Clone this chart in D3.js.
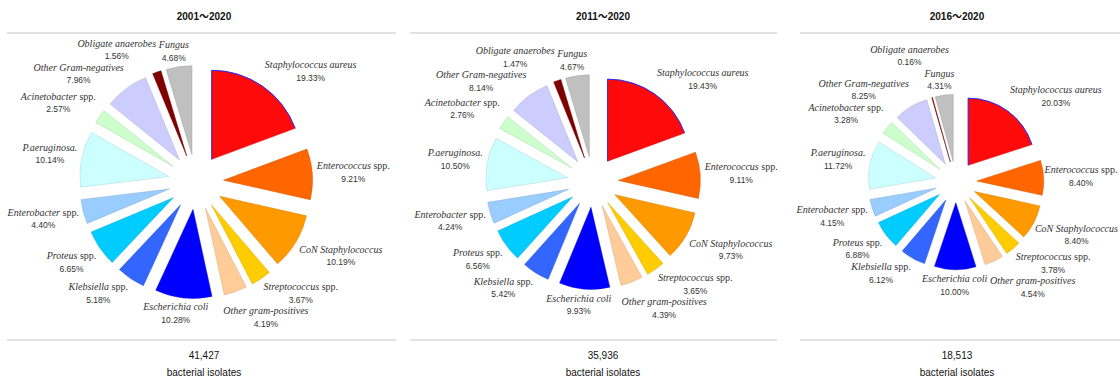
<!DOCTYPE html>
<html>
<head>
<meta charset="utf-8">
<script src="https://cdn.jsdelivr.net/npm/d3@7"></script>
<style>
  body { margin: 0; background: #fff; }
  svg { display: block; }
  .title { font: bold 10px "Liberation Sans", Arial, "Noto Sans CJK SC", sans-serif; fill: #111; }
  .name { font: italic 10px "Liberation Serif", "Times New Roman", serif; fill: #333; }
  .name .spp { font-style: normal; }
  .pct { font: 8.5px "Liberation Sans", Arial, sans-serif; fill: #333; }
  .foot { font: 10px "Liberation Sans", Arial, sans-serif; fill: #111; }
  .rule { stroke: #d9d9d9; stroke-width: 1.5; }
</style>
</head>
<body>
<svg id="chart" width="1120" height="378"></svg>
<script>
// organisms, clockwise from 12 o'clock
const categories = [
  'Staphylococcus aureus', 'Enterococcus spp.', 'CoN Staphylococcus', 'Streptococcus spp.',
  'Other gram-positives', 'Escherichia coli', 'Klebsiella spp.', 'Proteus spp.',
  'Enterobacter spp.', 'P.aeruginosa.', 'Acinetobacter spp.', 'Other Gram-negatives',
  'Obligate anaerobes', 'Fungus'
]
const sliceColors = [
  '#ff0a0a', '#ff6600', '#ff9900', '#ffcc00', '#ffcc99', '#0000ff', '#3366ff',
  '#00ccff', '#99ccff', '#ccffff', '#ccffcc', '#ccccff', '#800000', '#c0c0c0'
]
const titles = ['2001～2020', '2011～2020', '2016～2020']
const totals = ['41,427', '35,936', '18,513']

const pct2001 = [19.33, 9.21, 10.19, 3.67, 4.19, 10.28, 5.18, 6.65, 4.40, 10.14, 2.57, 7.96, 1.56, 4.68]
const pct2011 = [19.43, 9.11, 9.73, 3.65, 4.39, 9.93, 5.42, 6.56, 4.24, 10.50, 2.76, 8.14, 1.47, 4.67]
const pct2016 = [20.03, 8.40, 8.40, 3.78, 4.54, 10.00, 6.12, 6.88, 4.15, 11.72, 3.28, 8.25, 0.16, 4.31]
const series = [pct2001, pct2011, pct2016]

// panel placement
const layout = [
  { x0: 7, x1: 396, tx: 204, cx: 196, r: 89 },
  { x0: 410, x1: 777, tx: 603, cx: 593, r: 82 },
  { x0: 800, x1: 1120, tx: 957, cx: 956, r: 67 }
]
const cy = 182
const explode = 0.31
const width = 1120

const svg = d3.select('#chart')
const pie = d3.pie().sort(null).value(d => d)
const clamp = v => Math.max(-1, Math.min(1, v))

// shift a pair apart along one axis; when both sit on the same side of the
// pie only the outer one moves, so labels never slide in over the slices
function separate (A, B, key, amount) {
  const [lo, hi] = A[key] <= B[key] ? [A, B] : [B, A]
  if (lo[key] < 0 && hi[key] < 0) lo[key] -= amount
  else if (lo[key] > 0 && hi[key] > 0) hi[key] += amount
  else { lo[key] -= amount / 2; hi[key] += amount / 2 }
}

function spread (boxes) {
  for (let iter = 0; iter < 80; iter++) {
    let moved = false
    for (let i = 0; i < boxes.length; i++) {
      for (let j = i + 1; j < boxes.length; j++) {
        const A = boxes[i]
        const B = boxes[j]
        const ox = (A.w + B.w) / 2 + 2 - Math.abs(A.x - B.x)
        const oy = (A.h + B.h) / 2 + 1 - Math.abs(A.y - B.y)
        if (ox > 0 && oy > 0) {
          moved = true
          if (ox < oy * 1.5) separate(A, B, 'x', ox)
          else separate(A, B, 'y', oy)
        }
      }
    }
    if (!moved) break
  }
}

layout.forEach((L, i) => {
  const panel = svg.append('g')

  panel.append('text')
    .attr('class', 'title')
    .attr('x', L.tx).attr('y', 20)
    .attr('text-anchor', 'middle')
    .text(titles[i])

  panel.append('line').attr('class', 'rule')
    .attr('x1', L.x0).attr('x2', L.x1).attr('y1', 33).attr('y2', 33)
  panel.append('line').attr('class', 'rule')
    .attr('x1', L.x0).attr('x2', L.x1).attr('y1', 340).attr('y2', 340)

  panel.append('text').attr('class', 'foot')
    .attr('x', L.tx).attr('y', 359).attr('text-anchor', 'middle')
    .text(totals[i])
  panel.append('text').attr('class', 'foot')
    .attr('x', L.tx).attr('y', 376).attr('text-anchor', 'middle')
    .text('bacterial isolates')

  const arc = d3.arc().innerRadius(0).outerRadius(L.r)
  const off = L.r * explode
  const pieG = panel.append('g').attr('transform', `translate(${L.cx},${cy})`)
  const boxes = []

  pie(series[i]).forEach((a, j) => {
    const mid = (a.startAngle + a.endAngle) / 2
    const dx = Math.sin(mid)
    const dy = -Math.cos(mid)
    const fill = sliceColors[j]

    const sg = pieG.append('g').attr('transform', `translate(${dx * off},${dy * off})`)
    sg.append('path')
      .attr('d', arc(a))
      .attr('fill', fill)
      .attr('stroke', d3.color(fill).darker(0.5))
      .attr('stroke-width', 0.5)

    if (j === 0) {
      // blue edge on the leading side and rim of the first slice
      const p = d3.path()
      p.moveTo(0, 0)
      p.lineTo(L.r * Math.sin(a.startAngle), -L.r * Math.cos(a.startAngle))
      p.arc(0, 0, L.r, a.startAngle - Math.PI / 2, a.endAngle - Math.PI / 2)
      sg.append('path').attr('d', p.toString())
        .attr('fill', 'none').attr('stroke', '#2a2aff').attr('stroke-width', 1)
    }

    // label
    const lab = pieG.append('g')
    const name = lab.append('text').attr('class', 'name')
      .attr('text-anchor', 'middle').attr('y', -3)
    const cat = categories[j]
    if (cat.endsWith(' spp.')) {
      name.append('tspan').text(cat.slice(0, -5) + ' ')
      name.append('tspan').attr('class', 'spp').text('spp.')
    } else {
      name.text(cat)
    }
    lab.append('text').attr('class', 'pct')
      .attr('text-anchor', 'middle').attr('y', 9.5)
      .text(a.data.toFixed(2) + '%')

    const bb = lab.node().getBBox()
    const w = bb.width
    const h = 23
    const R = L.r + off
    boxes.push({
      node: lab,
      w,
      h,
      x: dx * R + clamp(2 * dx) * w / 2 + 4 * dx,
      y: dy * R + clamp(2 * dy) * h / 2 + 4 * dy
    })
  })

  spread(boxes)
  boxes.forEach(b => {
    // keep labels inside the page
    const right = width - 2 - L.cx
    const left = 2 - L.cx
    b.x = Math.min(right - b.w / 2, Math.max(left + b.w / 2, b.x))
    b.node.attr('transform', `translate(${b.x},${b.y})`)
  })
})
</script>
</body>
</html>
